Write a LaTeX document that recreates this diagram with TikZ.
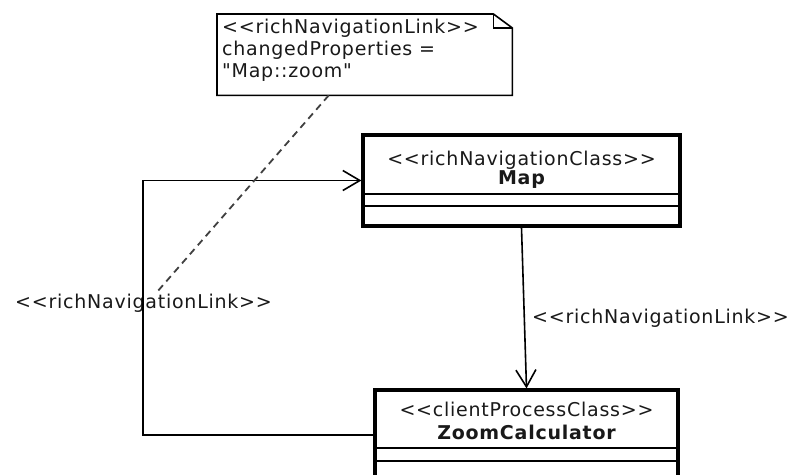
\documentclass[tikz,border=0pt]{standalone}
\usepackage{fontspec}
\newfontfamily\umlfont{DejaVu Sans}[LetterSpace=4]
\usetikzlibrary{arrows.meta}
\tikzset{
	classbox/.style={draw, line width=3.2pt, inner sep=0pt},
	notebox/.style={inner sep=0pt},
	umltext/.style={inner sep=0pt, font=\umlfont\fontsize{19}{22}\selectfont, text=black!90},
	classname/.style={umltext, font=\umlfont\bfseries\fontsize{19}{22}\selectfont},
	navlink/.style={line width=1.6pt, -{Straight Barb[length=17pt,width=20pt,line width=1.6pt]}},
	notelink/.style={line width=1.8pt, black!75, dash pattern=on 7pt off 5pt},
	compline/.style={line width=1.6pt}
}
\begin{document}
\begin{tikzpicture}[x=1pt,y=-1pt]
	\clip (0,0) rectangle (792,474);
	\node [classbox, minimum width=317pt, minimum height=91pt] (map) at (521.5,180.5) {};
	\node [classbox, minimum width=303pt, minimum height=90pt] (zc) at (526.5,435) {};
	\node [notebox, anchor=north west, minimum width=295pt, minimum height=81pt] (note) at (217,14) {};
	\draw [line width=1.6pt] (note.north west) -- ([xshift=-19pt]note.north east) -- ([yshift=-14pt]note.north east) -- (note.south east) -- (note.south west) -- cycle;
	\draw [line width=1.6pt] ([xshift=-19pt]note.north east) |- ([yshift=-14pt]note.north east);
	\node [umltext, anchor=north west, align=left] (notetext) at (222,19) {<{}<richNavigationLink>{}>\\changedProperties =\\"Map::zoom"};
	\foreach \y in {194,206}
	\draw [compline] (map.west |- 0,\y) -- (map.east |- 0,\y);
	\foreach \y in {448,461}
	\draw [compline] (zc.west |- 0,\y) -- (zc.east |- 0,\y);
	\node [umltext, anchor=base] (mapstereo) at (521.5,165) {<{}<richNavigationClass>{}>};
	\node [classname, anchor=base] (mapname) at (521.5,184) {Map};
	\node [umltext, anchor=base] (zcstereo) at (526.5,416) {<{}<clientProcessClass>{}>};
	\node [classname, anchor=base] (zcname) at (526.5,439) {ZoomCalculator};
	\node [umltext, anchor=base west] (leftlabel) at (15,308) {<{}<richNavigationLink>{}>};
	\node [umltext, anchor=base west] (rightlabel) at (532,323) {<{}<richNavigationLink>{}>};
	\coordinate (bend) at (143,0);
	\coordinate (linkpoint) at (157,292);
	\draw [navlink] (map.south) -- (zc.north);
	\draw [navlink] (zc.west) -| (bend |- map.west) -- (map.west);
	\draw [notelink] ([xshift=-36pt]note.south) -- (linkpoint);
\end{tikzpicture}
\end{document}
